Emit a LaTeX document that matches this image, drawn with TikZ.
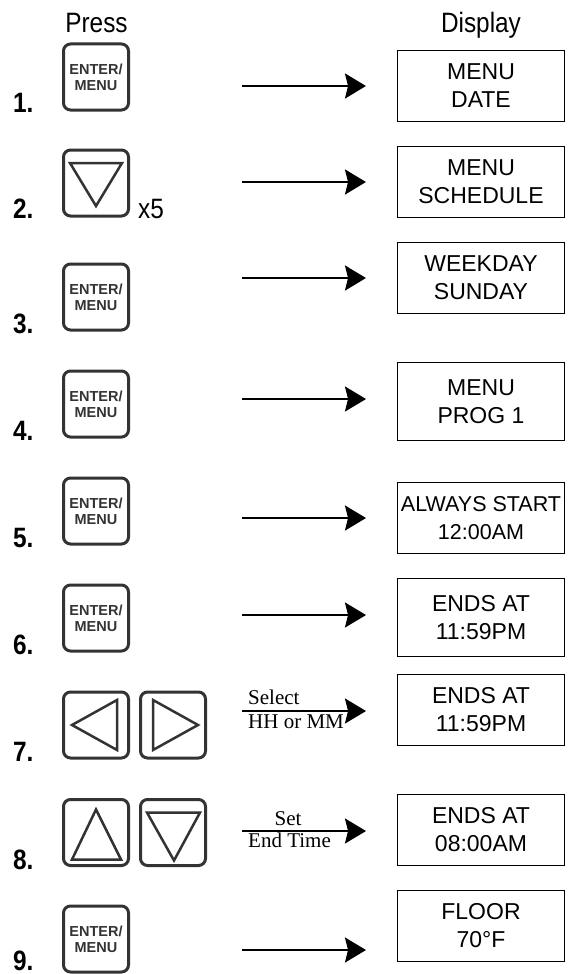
\documentclass[tikz,border=0pt]{standalone}
\usepackage{fontspec}
\setmainfont{Liberation Sans}
\newfontfamily\condf[FakeStretch=0.87]{Liberation Sans}
\newfontfamily\serff{Liberation Serif}
\usetikzlibrary{arrows.meta}
\definecolor{btn}{HTML}{333333}
\begin{document}
\begin{tikzpicture}[x=1pt,y=-1pt,
 disp/.style={draw,line width=1.3pt,minimum width=166.7pt,minimum height=70.7pt,inner sep=0pt,align=center,font=\fontsize{23}{28}\selectfont},
 key/.style={draw=btn,line width=3pt,rounded corners=7pt,minimum width=65pt,minimum height=66pt,inner sep=0pt,align=center,text=btn,font=\fontsize{14.5}{16}\selectfont\bfseries},
 tri/.style={draw=btn,line width=2.5pt},
 num/.style={anchor=base west,inner sep=0pt,font={\condf\bfseries\fontsize{28}{28}\selectfont}},
 hdr/.style={anchor=base,inner sep=0pt,font={\condf\fontsize{28}{28}\selectfont}},
 arr/.style={line width=2pt,-{Stealth[length=21pt,width=25pt,inset=3pt]}},
 lbl/.style={inner sep=0pt,font={\serff\fontsize{21}{21}\selectfont}}
]
\useasboundingbox (0,0) rectangle (572,974);
% headers
\node[hdr] (hpress) at (96.5,33) {Press};
\node[hdr] (hdisp) at (481,33) {Display};
% step numbers
\node[num] (n1) at (13,112) {1.};
\node[num] (n2) at (13,218) {2.};
\node[num] (n3) at (13,333) {3.};
\node[num] (n4) at (13,440) {4.};
\node[num] (n5) at (13,547) {5.};
\node[num] (n6) at (13,654) {6.};
\node[num] (n7) at (13,761) {7.};
\node[num] (n8) at (13,869) {8.};
\node[num] (n9) at (13,970) {9.};
% keys
\node[key] (b1) at (96,77) {ENTER/\\MENU};
\node[key] (b2) at (96,183) {};
\node[key] (b3) at (96,297) {ENTER/\\MENU};
\node[key] (b4) at (96,404) {ENTER/\\MENU};
\node[key] (b5) at (96,511) {ENTER/\\MENU};
\node[key] (b6) at (96,618) {ENTER/\\MENU};
\node[key] (b7l) at (96,725) {};
\node[key] (b7r) at (173,725) {};
\node[key] (b8l) at (96,832.5) {};
\node[key] (b8r) at (173,832.5) {};
\node[key] (b9) at (96,939) {ENTER/\\MENU};
\node[hdr,anchor=base west] (x5) at (138,218) {x5};
% triangles
\draw[tri] ([shift={(-26,-20)}]b2.center) -- ([shift={(26,-20)}]b2.center) -- ([shift={(0,23)}]b2.center) -- cycle;
\draw[tri] ([shift={(-24,0)}]b7l.center) -- ([shift={(21,-25)}]b7l.center) -- ([shift={(21,25)}]b7l.center) -- cycle;
\draw[tri] ([shift={(-20,-25)}]b7r.center) -- ([shift={(25,0)}]b7r.center) -- ([shift={(-20,25)}]b7r.center) -- cycle;
\draw[tri] ([shift={(0,-23)}]b8l.center) -- ([shift={(25,27)}]b8l.center) -- ([shift={(-24,27)}]b8l.center) -- cycle;
\draw[tri] ([shift={(-26,-20)}]b8r.center) -- ([shift={(27,-20)}]b8r.center) -- ([shift={(1,28)}]b8r.center) -- cycle;
% displays
\node[disp] (d1) at (481,86) {MENU\\DATE};
\node[disp] (d2) at (481,182) {MENU\\SCHEDULE};
\node[disp] (d3) at (481,278) {WEEKDAY\\SUNDAY};
\node[disp,minimum height=77.7pt] (d4) at (481,401.5) {MENU\\PROG 1};
\node[disp,font=\fontsize{21.5}{26}\selectfont] (d5) at (481,518) {ALWAYS START\\[2pt]12:00AM};
\node[disp,minimum height=77.7pt] (d6) at (481,617.5) {ENDS AT\\11:59PM};
\node[disp] (d7) at (481,710) {ENDS AT\\11:59PM};
\node[disp] (d8) at (481,830) {ENDS AT\\08:00AM};
\node[disp] (d9) at (481,926) {FLOOR\\70°F};
% arrows
\coordinate (s1) at (242,86);  \coordinate (e1) at (366,86);
\coordinate (s2) at (242,182); \coordinate (e2) at (366,182);
\coordinate (s3) at (242,278); \coordinate (e3) at (366,278);
\coordinate (s4) at (242,399); \coordinate (e4) at (366,399);
\coordinate (s5) at (242,518); \coordinate (e5) at (366,518);
\coordinate (s6) at (242,615); \coordinate (e6) at (366,615);
\coordinate (s7) at (242,711); \coordinate (e7) at (366,711);
\coordinate (s8) at (242,831); \coordinate (e8) at (366,831);
\coordinate (s9) at (242,950); \coordinate (e9) at (366,950);
\foreach \i in {1,...,9} {\draw[arr] (s\i) -- (e\i);}
% arrow labels
\node[lbl,anchor=base west] (l7a) at (248,704) {Select};
\node[lbl,anchor=base west] (l7b) at (248,728) {HH or MM};
\node[lbl,anchor=base] (l8a) at (288,825) {Set};
\node[lbl,anchor=base] (l8b) at (289.5,847) {End Time};
\end{tikzpicture}
\end{document}
